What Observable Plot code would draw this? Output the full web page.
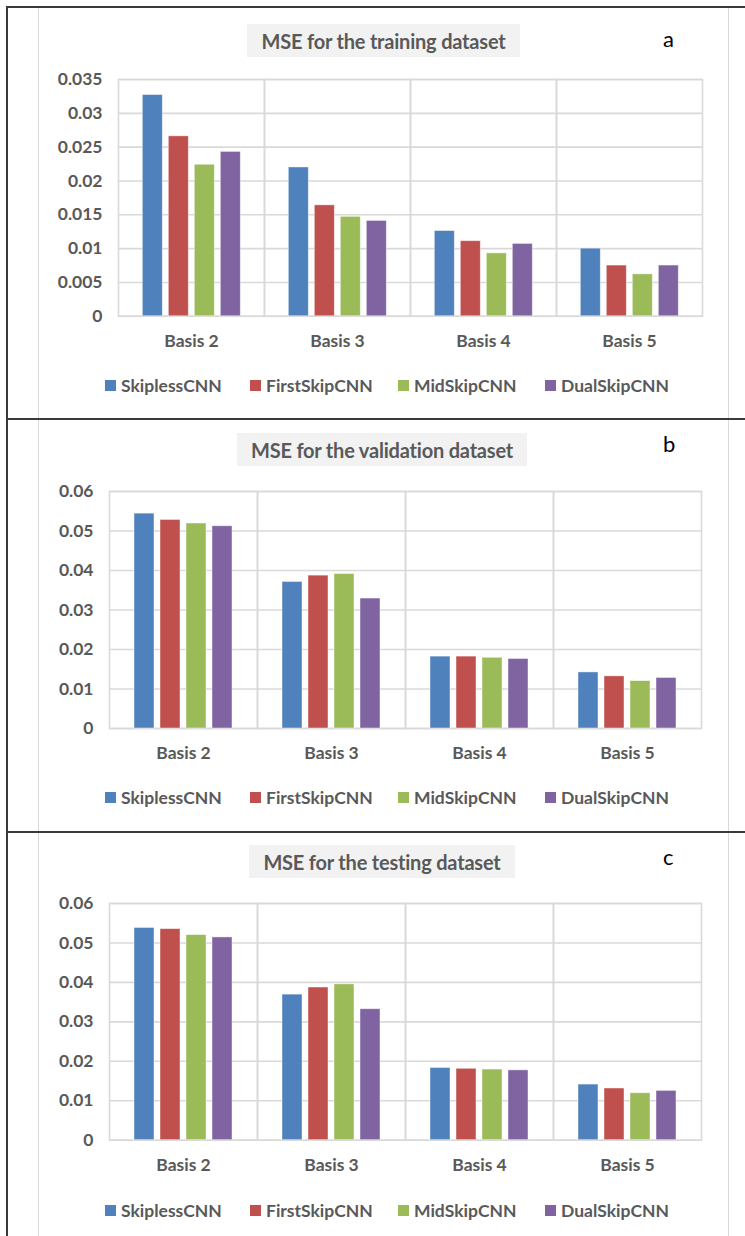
<!DOCTYPE html>
<html><head><meta charset="utf-8">
<script src="https://cdn.jsdelivr.net/npm/d3@7"></script>
<script src="https://cdn.jsdelivr.net/npm/@observablehq/plot@0.6"></script>
<style>
body{margin:0;background:#fff;}
#page{position:relative;width:745px;height:1236px;overflow:hidden;font-family:Lato,"Open Sans",sans-serif;background:#fff;}
.ln{position:absolute;}
.title{position:absolute;background:#f2f2f2;color:#595959;font-weight:700;font-size:20px;letter-spacing:-0.2px;display:flex;align-items:center;justify-content:center;white-space:nowrap;}
.letter{position:absolute;color:#000;font-size:22px;line-height:1;}
.legend{position:absolute;left:0;width:745px;height:20px;}
.item{position:absolute;top:0;height:20px;display:flex;align-items:center;color:#595959;font-weight:700;font-size:17.5px;white-space:nowrap;}
.sw{width:11px;height:11px;margin-right:5px;}
.chart{position:absolute;left:0;}
</style></head><body><div id="page"></div>
<script>
const basis = ["Basis 2", "Basis 3", "Basis 4", "Basis 5"];
const models = ["SkiplessCNN", "FirstSkipCNN", "MidSkipCNN", "DualSkipCNN"];
const colors = ["#4F81BD", "#C0504D", "#9BBB59", "#8064A2"];

const trainingSkipless  = [0.0327, 0.0220, 0.0126, 0.0100];
const trainingFirstSkip = [0.0266, 0.0164, 0.0111, 0.0075];
const trainingMidSkip   = [0.0224, 0.0147, 0.0093, 0.0062];
const trainingDualSkip  = [0.0243, 0.0141, 0.0107, 0.0075];

const validationSkipless  = [0.0544, 0.0371, 0.0182, 0.0142];
const validationFirstSkip = [0.0528, 0.0387, 0.0182, 0.0132];
const validationMidSkip   = [0.0519, 0.0391, 0.0179, 0.0120];
const validationDualSkip  = [0.0512, 0.0329, 0.0176, 0.0128];

const testingSkipless  = [0.0538, 0.0369, 0.0183, 0.0141];
const testingFirstSkip = [0.0535, 0.0387, 0.0181, 0.0131];
const testingMidSkip   = [0.0520, 0.0395, 0.0179, 0.0119];
const testingDualSkip  = [0.0514, 0.0332, 0.0177, 0.0125];

const trainingTicks = [0, 0.005, 0.01, 0.015, 0.02, 0.025, 0.03, 0.035];
const lossTicks = [0, 0.01, 0.02, 0.03, 0.04, 0.05, 0.06];

const panelTitles = ["MSE for the training dataset", "MSE for the validation dataset", "MSE for the testing dataset"];
const panelLetters = ["a", "b", "c"];

const page = document.getElementById("page");
function add(cls, css, html) {
  const d = document.createElement("div");
  d.className = cls;
  Object.assign(d.style, css);
  if (html !== undefined) d.textContent = html;
  page.appendChild(d);
  return d;
}

// frame lines (table borders and chart-area borders)
add("ln", {left: "38px", top: "6px", width: "1px", height: "1230px", background: "#d9d9d9"});
add("ln", {left: "728px", top: "6px", width: "1px", height: "1230px", background: "#d9d9d9"});
add("ln", {left: "6px", top: "6px", width: "1.5px", height: "1230px", background: "#3a3a3a"});
add("ln", {left: "6px", top: "6px", width: "739px", height: "1.5px", background: "#3a3a3a"});
add("ln", {left: "6px", top: "418px", width: "739px", height: "1.5px", background: "#3a3a3a"});
add("ln", {left: "6px", top: "831px", width: "739px", height: "1.5px", background: "#3a3a3a"});

const panels = [
  {series: [trainingSkipless, trainingFirstSkip, trainingMidSkip, trainingDualSkip], ticks: trainingTicks, tickCount: 7,
   plotTop: 78.5, plotBottom: 315.3, left: 117.7, right: 701.7,
   box: [247, 24, 273, 33], letterX: 663, letterY: 28, legendY: 375},
  {series: [validationSkipless, validationFirstSkip, validationMidSkip, validationDualSkip], ticks: lossTicks, tickCount: 6,
   plotTop: 490.7, plotBottom: 727.7, left: 108, right: 702,
   box: [237, 433, 290, 33], letterX: 663, letterY: 433, legendY: 787},
  {series: [testingSkipless, testingFirstSkip, testingMidSkip, testingDualSkip], ticks: lossTicks, tickCount: 6,
   plotTop: 903.3, plotBottom: 1140, left: 108, right: 702,
   box: [249, 845, 266, 33], letterX: 663, letterY: 846, legendY: 1200}
];
const legendX = [105, 250, 398, 545];

panels.forEach((p, i) => {
  const rows = [];
  basis.forEach((b, bi) => models.forEach((m, mi) => rows.push({basis: b, model: m, value: p.series[mi][bi]})));
  const mt = 20, mb = 45;
  const H = (p.plotBottom - p.plotTop) + mt + mb;
  const svg = Plot.plot({
    width: 745, height: H,
    marginTop: mt, marginBottom: mb, marginLeft: p.left, marginRight: 745 - p.right,
    style: {fontFamily: "Lato, 'Open Sans', sans-serif", fontSize: "17.5px", fontWeight: 700, color: "#595959", background: "transparent", overflow: "visible"},
    fx: {domain: basis, padding: 0, axis: "bottom", tickSize: 0, tickPadding: 18, label: null},
    x: {domain: models, paddingInner: 0.22, paddingOuter: 0.885, axis: null},
    y: {domain: [0, p.ticks[p.ticks.length - 1]], ticks: p.tickCount, tickFormat: "~g", tickSize: 0, tickPadding: 16, label: null},
    color: {domain: models, range: colors},
    marks: [
      Plot.ruleY(p.ticks, {stroke: "#d9d9d9", strokeWidth: 1.6}),
      Plot.frame({stroke: "#d9d9d9", strokeWidth: 1.6}),
      Plot.barY(rows, {fx: "basis", x: "model", y: "value", fill: "model", stroke: "#ffffff", strokeOpacity: 0.55, strokeWidth: 0.8})
    ]
  });
  const wrap = add("chart", {top: (p.plotTop - mt) + "px"});
  wrap.appendChild(svg);

  add("title", {left: p.box[0] + "px", top: p.box[1] + "px", width: p.box[2] + "px", height: p.box[3] + "px"}, panelTitles[i]);
  add("letter", {left: p.letterX + "px", top: p.letterY + "px"}, panelLetters[i]);

  const lg = add("legend", {top: p.legendY + "px"});
  models.forEach((m, mi) => {
    const it = document.createElement("div");
    it.className = "item";
    it.style.left = legendX[mi] + "px";
    const sw = document.createElement("span");
    sw.className = "sw";
    sw.style.background = colors[mi];
    it.appendChild(sw);
    it.appendChild(document.createTextNode(m));
    lg.appendChild(it);
  });
});
</script></body></html>
